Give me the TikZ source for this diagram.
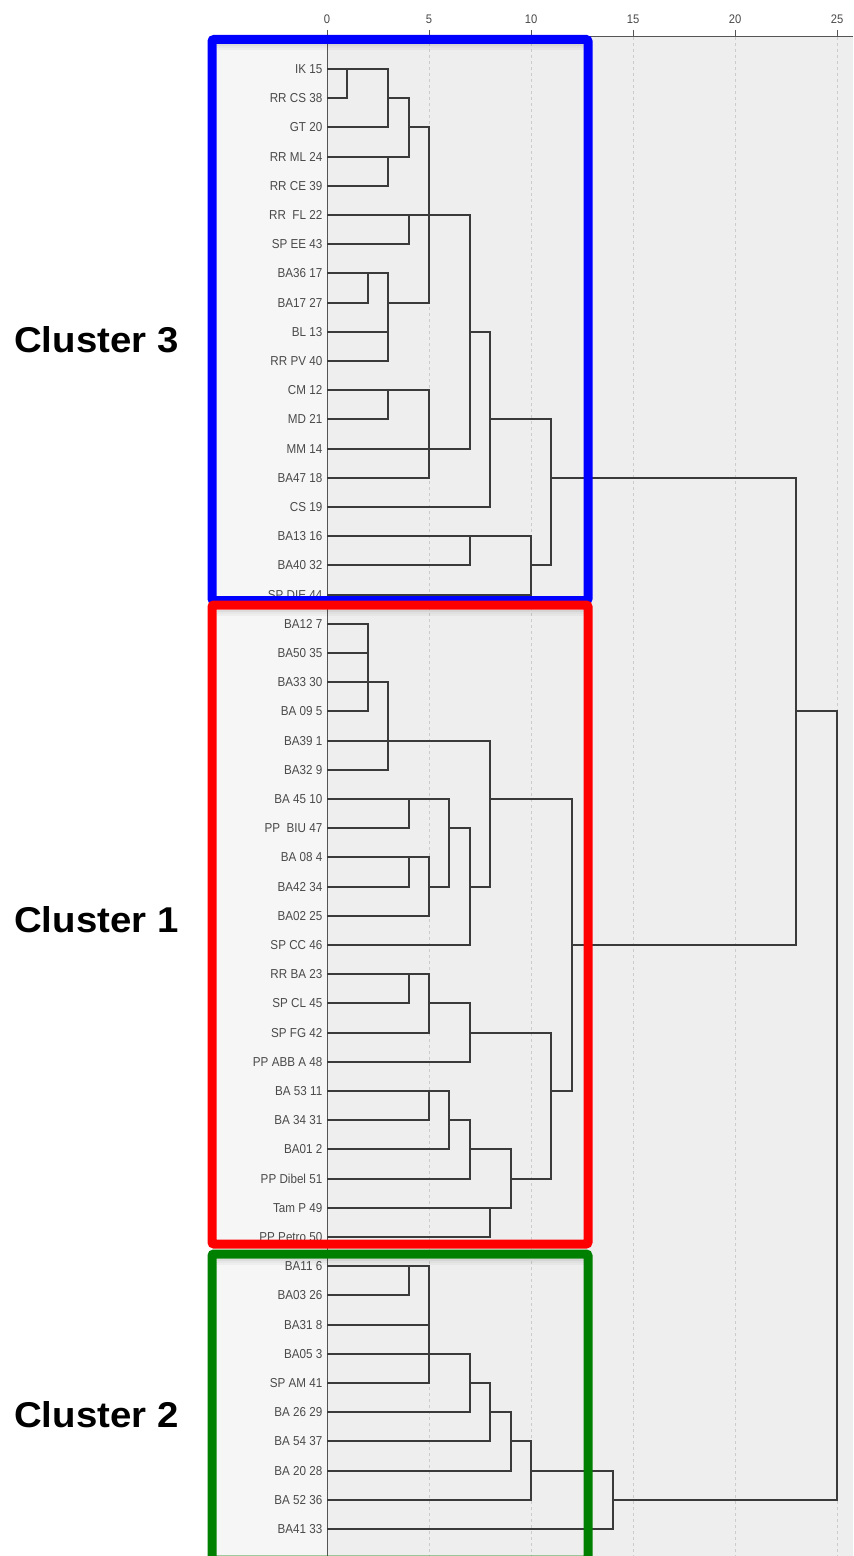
\documentclass[tikz,border=0pt]{standalone}
\usepackage{fontspec}
\setmainfont{Liberation Sans}
\newfontfamily\leaffont[FakeStretch=0.9]{Liberation Sans}
\newfontfamily\clusterfont[FakeStretch=1.07]{Liberation Sans}

\definecolor{panel}{HTML}{EEEEEE}
\definecolor{labelcol}{HTML}{F6F6F6}
\definecolor{inkgray}{HTML}{4A4A4A}
\definecolor{linkgray}{HTML}{3A3A3A}
\definecolor{axisgray}{HTML}{555555}
\definecolor{gridgray}{HTML}{CCCCCC}
\definecolor{boxblue}{HTML}{0000FF}
\definecolor{boxred}{HTML}{FF0000}
\definecolor{boxgreen}{HTML}{008000}

\tikzset{
  leaf/.style={anchor=east, inner sep=0pt, text=inkgray,
    font=\leaffont\fontsize{13}{13}\selectfont},
  ticklabel/.style={inner sep=0pt, text=inkgray,
    font=\leaffont\fontsize{12.5}{12.5}\selectfont},
  link/.style={draw=linkgray, line width=2bp, line cap=rect},
  gridline/.style={draw=gridgray, line width=1bp, dash pattern=on 3bp off 3bp},
  zeroline/.style={draw=axisgray, line width=1bp},
  clusterbox/.style={line width=9bp, rounded corners=2bp},
  clusterlabel/.style={anchor=west, inner sep=0pt,
    font=\clusterfont\bfseries\fontsize{36}{36}\selectfont},
}

% join: name, height, row, top child, bottom child, all children
\newcommand\dmerge[6]{%
  \coordinate (#1) at ({round(327+20.4*#2)},{round(69+29.2*#3)});
  \draw[link] (#4 -| #1) -- (#5 -| #1);
  \foreach \ch in {#6}{\draw[link] (\ch) -- (\ch -| #1);}
}

% soft shadow under the top edge of a box
\newcommand\topshade[1]{%
  \fill[black,opacity=0.10] (216.5,#1) rectangle (583.5,#1+2);
  \fill[black,opacity=0.06] (216.5,#1+2) rectangle (583.5,#1+4);
  \fill[black,opacity=0.03] (216.5,#1+4) rectangle (583.5,#1+6);
}

\begin{document}
\begin{tikzpicture}[x=1bp,y=-1bp]
\useasboundingbox (0,0) rectangle (853,1556);
\fill[white] (0,0) rectangle (853,1556);

% plot panel
\fill[panel] (212,36) rectangle (853,1556);
\fill[labelcol] (212,36) rectangle (327,1556);

% grid
\foreach \g in {5,10,15,20,25}
  \draw[gridline] ({round(327+20.4*\g)+0.5},37) -- ({round(327+20.4*\g)+0.5},1556);
\draw[zeroline] (327.5,36) -- (327.5,1556);

% axis with ticks
\draw[zeroline] (212,36.5) -- (853,36.5);
\foreach \g in {0,5,10,15,20,25}{
  \node[ticklabel] (t\g) at ({round(327+20.4*\g)},19) {\g};
  \draw[zeroline] ({round(327+20.4*\g)+0.5},30) -- ({round(327+20.4*\g)+0.5},36);
}

% leaves
\foreach \r/\t in {
  0/IK 15, 1/RR CS 38, 2/GT 20, 3/RR ML 24, 4/RR CE 39, 5/RR\ \ FL 22,
  6/SP EE 43, 7/BA36 17, 8/BA17 27, 9/BL 13, 10/RR PV 40, 11/CM 12,
  12/MD 21, 13/MM 14, 14/BA47 18, 15/CS 19, 16/BA13 16, 17/BA40 32,
  18/SP DIE 44, 19/BA12 7, 20/BA50 35, 21/BA33 30, 22/BA 09 5,
  23/BA39 1, 24/BA32 9, 25/BA 45 10, 26/PP\ \ BIU 47, 27/BA 08 4,
  28/BA42 34, 29/BA02 25, 30/SP CC 46, 31/RR BA 23, 32/SP CL 45,
  33/SP FG 42, 34/PP ABB A 48, 35/BA 53 11, 36/BA 34 31, 37/BA01 2,
  38/PP Dibel 51, 39/Tam P 49, 40/PP Petro 50, 41/BA11 6, 42/BA03 26,
  43/BA31 8, 44/BA05 3, 45/SP AM 41, 46/BA 26 29, 47/BA 54 37,
  48/BA 20 28, 49/BA 52 36, 50/BA41 33}{
  \node[leaf] (n\r) at (322.5,{round(69+29.2*\r)}) {\t};
  \coordinate (l\r) at (328,{round(69+29.2*\r)});
}

% cluster 3 joins
\dmerge{A}{1}{0}{l0}{l1}{l0,l1}
\dmerge{B}{3}{1}{A}{l2}{A,l2}
\dmerge{C}{3}{3}{l3}{l4}{l3,l4}
\dmerge{D}{4}{2}{B}{C}{B,C}
\dmerge{F}{4}{5}{l5}{l6}{l5,l6}
\dmerge{G}{2}{7}{l7}{l8}{l7,l8}
\dmerge{H}{3}{8}{G}{l10}{G,l9,l10}
\dmerge{I}{5}{5}{D}{H}{D,H}
\dmerge{L}{3}{11}{l11}{l12}{l11,l12}
\dmerge{K}{5}{13}{L}{l14}{L,l13,l14}
\dmerge{J}{7}{9}{I}{K}{I,F,K}
\dmerge{M}{8}{12}{J}{l15}{J,l15}
\dmerge{N}{7}{16}{l16}{l17}{l16,l17}
\dmerge{O}{10}{17}{N}{l18}{N,l18}
\dmerge{P}{11}{14}{M}{O}{M,O}

% cluster 1 joins
\dmerge{Q}{2}{21}{l19}{l22}{l19,l20,l21,l22}
\dmerge{R}{3}{23}{Q}{l24}{Q,l23,l24}
\dmerge{S}{4}{25}{l25}{l26}{l25,l26}
\dmerge{T}{4}{27}{l27}{l28}{l27,l28}
\dmerge{U}{5}{28}{T}{l29}{T,l29}
\dmerge{V}{6}{26}{S}{U}{S,U}
\dmerge{W}{7}{28}{V}{l30}{V,l30}
\dmerge{X}{8}{25}{R}{W}{R,W}
\dmerge{AA}{4}{31}{l31}{l32}{l31,l32}
\dmerge{AB}{5}{32}{AA}{l33}{AA,l33}
\dmerge{AC}{7}{33}{AB}{l34}{AB,l34}
\dmerge{AD}{5}{35}{l35}{l36}{l35,l36}
\dmerge{AE}{6}{36}{AD}{l37}{AD,l37}
\dmerge{AF}{7}{37}{AE}{l38}{AE,l38}
\dmerge{AG}{8}{39}{l39}{l40}{l39,l40}
\dmerge{AH}{9}{38}{AF}{AG}{AF,AG}
\dmerge{Z}{11}{35}{AC}{AH}{AC,AH}
\dmerge{Y}{12}{30}{X}{Z}{X,Z}

% cluster 2 joins
\dmerge{BB}{4}{41}{l41}{l42}{l41,l42}
\dmerge{BC}{5}{44}{BB}{l45}{BB,l43,l44,l45}
\dmerge{BD}{7}{45}{BC}{l46}{BC,l46}
\dmerge{BE}{8}{46}{BD}{l47}{BD,l47}
\dmerge{BF}{9}{47}{BE}{l48}{BE,l48}
\dmerge{BG}{10}{48}{BF}{l49}{BF,l49}
\dmerge{BH}{14}{49}{BG}{l50}{BG,l50}

% top joins
\dmerge{RA}{23}{22}{P}{Y}{P,Y}
\dmerge{RB}{25}{35}{RA}{BH}{RA,BH}

% cluster frames
\topshade{44}
\topshade{609.5}
\topshade{1258.5}
\draw[clusterbox, draw=boxblue] (212,39.5) rectangle (588,600.5);
\draw[clusterbox, draw=boxred] (212,605) rectangle (588,1244);
\draw[clusterbox, draw=boxgreen] (212,1254) rectangle (588,1560);

% cluster names
\node[clusterlabel] (c3) at (14,340) {Cluster 3};
\node[clusterlabel] (c1) at (14,920) {Cluster 1};
\node[clusterlabel] (c2) at (14,1415) {Cluster 2};
\end{tikzpicture}
\end{document}
